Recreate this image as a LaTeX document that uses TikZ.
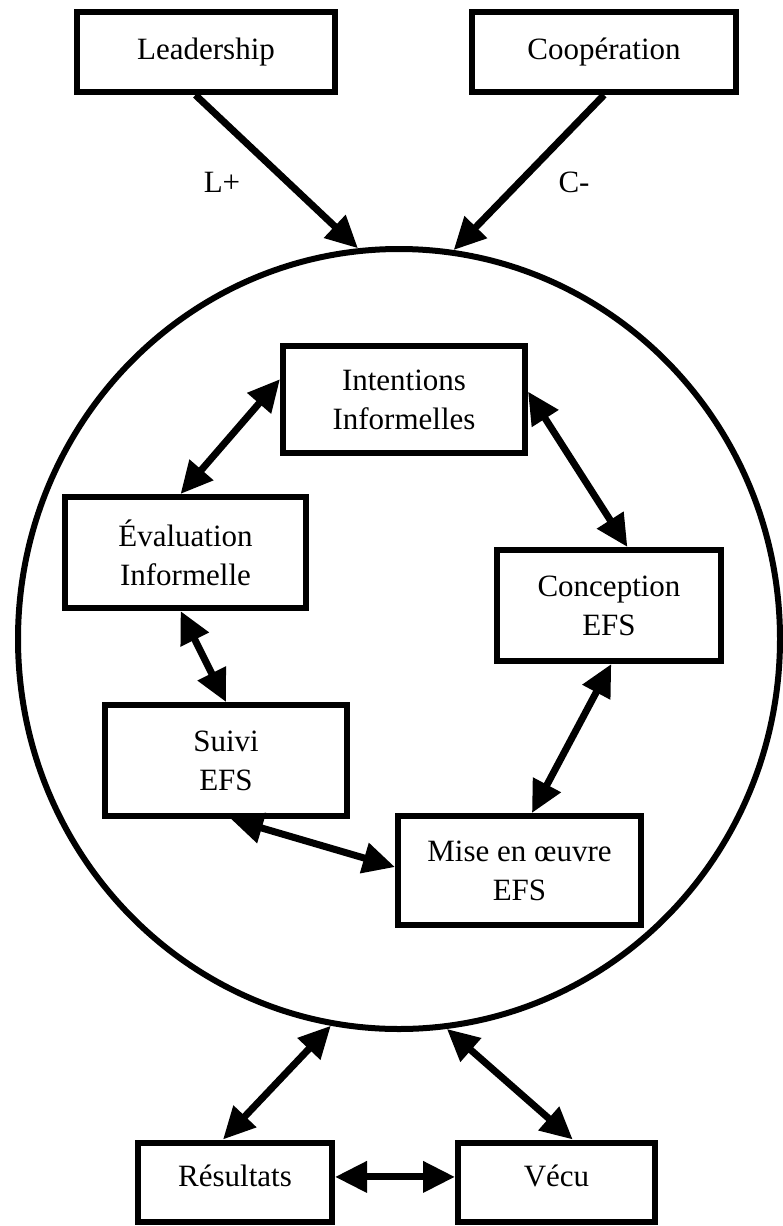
\documentclass[tikz,border=0pt]{standalone}
\usepackage{fontspec}
\setmainfont{Liberation Serif}
\usetikzlibrary{arrows.meta,shapes.geometric,calc}
\begin{document}
\begin{tikzpicture}[x=1pt,y=-1pt,
  txt/.style={font=\fontsize{31}{39}\selectfont},
  box/.style={txt, draw, line width=6pt, inner sep=0pt, align=center},
  link/.style={line width=7pt, {Triangle[length=32pt,width=30pt]}-{Triangle[length=32pt,width=30pt]}},
  feed/.style={line width=7pt, -{Triangle[length=32pt,width=30pt]}},
  lbl/.style={txt, inner sep=0pt}]
\useasboundingbox (0,0) rectangle (783,1226);

% the cycle, drawn as one large ellipse
\node[draw, ellipse, line width=6pt, inner sep=0pt,
      minimum width=762pt, minimum height=780pt] (cyc) at (399,639) {};

% outside influences
\node[box, minimum width=258pt, minimum height=80pt] (lead) at (206,52) {Leadership};
\node[box, minimum width=264pt, minimum height=80pt] (coop) at (604,52) {Coopération};

% stages of the cycle
\node[box, minimum width=242pt, minimum height=107pt] (intent) at (404,399.5) {Intentions\\Informelles};
\node[box, minimum width=241pt, minimum height=111pt] (eval) at (185.5,552.5) {Évaluation\\Informelle};
\node[box, minimum width=224pt, minimum height=111pt] (conc) at (609,605.5) {Conception\\EFS};
\node[box, minimum width=242pt, minimum height=111pt] (suivi) at (226,760.5) {Suivi\\EFS};
\node[box, minimum width=243pt, minimum height=109pt] (mise) at (519.5,870.5) {Mise en œuvre\\EFS};

% outcomes
\node[box, text depth=12pt, minimum width=194pt, minimum height=79pt] (res) at (235,1182) {Résultats};
\node[box, text depth=12pt, minimum width=197pt, minimum height=79pt] (vecu) at (556.5,1182) {Vécu};

% influence arrows and their labels
\draw[feed] ($(lead.south west)!0.46!(lead.south east)$) -- (cyc.96);
\draw[feed] ($(coop.south west)!0.5!(coop.south east)$) -- (cyc.82);
\node[lbl] (lplus) at (222,182) {L+};
\node[lbl] (cminus) at (574,182) {C-};

% links around the cycle
\draw[link] ($(intent.north west)!0.32!(intent.south west)$) -- ($(eval.north west)!0.48!(eval.north east)$);
\draw[link] ($(intent.north east)!0.43!(intent.south east)$) -- ($(conc.north west)!0.58!(conc.north east)$);
\draw[link] ($(eval.south west)!0.48!(eval.south east)$) -- ($(suivi.north west)!0.5!(suivi.north east)$);
\draw[link] ($(conc.south west)!0.51!(conc.south east)$) -- ($(mise.north west)!0.55!(mise.north east)$);
\draw[link] ($(suivi.south west)!0.52!(suivi.south east)$) -- ($(mise.north west)!0.47!(mise.south west)$);

% links to the outcomes
\draw[link] (cyc.260.5) -- ($(res.north west)!0.44!(res.north east)$);
\draw[link] (cyc.277) -- ($(vecu.north west)!0.58!(vecu.north east)$);
\draw[link] ($(res.north east)!0.44!(res.south east)$) -- ($(vecu.north west)!0.44!(vecu.south west)$);
\end{tikzpicture}
\end{document}
